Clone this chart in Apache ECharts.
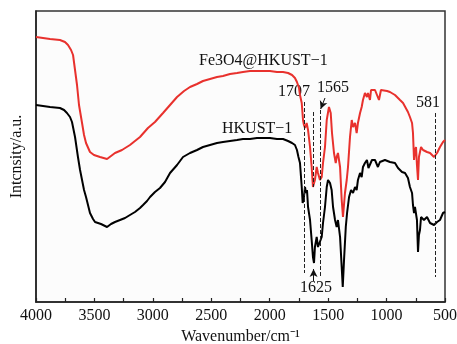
<!DOCTYPE html>
<html><head><meta charset="utf-8">
<script src="https://cdn.jsdelivr.net/npm/echarts@6/dist/echarts.min.js"></script>
<style>html,body{margin:0;padding:0;background:#fff}#c{width:457px;height:344px}</style>
</head><body><div id="c"></div>
<script>
// Wavenumber (cm^-1) and relative intensity (a.u., offset traces)
const fe3o4Wavenumber = [4000,3880,3795,3752,3726,3700,3683,3666,3649,3632,3606,3589,3572,3538,3504,3452,3392,3358,3324,3264,3196,3110,3042,2982,2913,2853,2793,2733,2682,2622,2571,2511,2451,2400,2340,2280,2229,2169,2109,2057,1998,1938,1886,1843,1809,1784,1767,1749,1741,1726,1715,1707,1698,1684,1672,1655,1641,1630,1613,1598,1587,1570,1555,1544,1527,1512,1493,1478,1467,1450,1435,1427,1416,1398,1384,1373,1356,1341,1330,1313,1298,1287,1270,1256,1245,1227,1213,1202,1185,1168,1159,1142,1133,1116,1099,1082,1065,1048,1031,996,971,928,885,859,842,817,800,782,774,765,757,748,740,731,723,705,688,671,654,628,594,568,543,517,500];
const fe3o4Intensity = [265,263,262,260,257,252,247,232,217,197,179,167,159,150,147,145,143,146,149,152,157,165,174,180,189,197,205,211,215,218,221,223,225,226,228,229,230,231,231,231,231,230,230,229,227,224,220,214,207,199,182,177,174,179,172,155,135,115,122,135,129,122,125,139,155,182,195,189,169,149,139,145,149,135,102,85,109,122,135,165,182,175,179,169,179,189,195,202,209,205,209,202,212,210,212,210,202,212,212,211,210,207,202,199,197,190,185,179,169,142,152,155,137,122,145,155,152,154,150,149,145,149,155,160,162];
const hkustWavenumber = [4000,3880,3795,3760,3735,3709,3692,3666,3641,3623,3606,3589,3572,3555,3538,3512,3495,3444,3392,3358,3324,3281,3238,3196,3153,3110,3084,3050,3024,2982,2939,2896,2853,2793,2742,2682,2622,2571,2511,2451,2400,2340,2280,2229,2169,2109,2057,1998,1938,1886,1843,1809,1784,1767,1754,1741,1726,1718,1707,1698,1690,1681,1672,1655,1641,1630,1621,1613,1598,1587,1570,1555,1544,1527,1512,1501,1484,1470,1458,1441,1427,1416,1398,1384,1375,1364,1349,1338,1321,1304,1287,1270,1256,1245,1227,1213,1202,1185,1168,1155,1142,1125,1099,1074,1057,1014,971,928,902,868,842,817,800,782,774,765,757,740,731,723,714,705,680,654,628,594,568,543,517,500];
const hkustIntensity = [197,195,194,192,189,185,180,165,145,132,122,112,105,97,89,83,80,78,75,78,80,82,84,87,90,94,97,101,105,110,114,120,129,137,145,149,152,155,157,159,160,161,162,163,163,164,164,164,163,163,161,159,157,152,145,139,115,99,105,115,109,112,95,82,62,45,39,55,65,55,55,65,79,95,115,122,119,112,95,82,75,82,65,35,15,42,75,89,105,112,109,115,112,122,129,125,135,139,142,134,135,142,142,135,140,142,140,139,134,130,129,124,115,109,97,89,95,82,50,67,72,85,82,85,79,77,80,82,89,90];
const xTickValues = [4000,3500,3000,2500,2000,1500,1000,500];
const seriesNames = ['Fe3O4@HKUST\u22121','HKUST\u22121'];
const peakMarks = [1707,1625,1565,581];

const FONT = '"Liberation Serif","Times New Roman",serif';
const zip = (a,b)=>a.map((v,i)=>[v,b[i]]);
const dash = {type:'dashed', color:'#222', width:1, dashOffset:0};
const chart = echarts.init(document.getElementById('c'), null, {renderer:'canvas'});
chart.setOption({
  animation:false,
  backgroundColor:'#fff',
  grid:{left:36, top:11, right:12, bottom:42, containLabel:false, outerBoundsMode:'none',
        show:true, borderColor:'#333', borderWidth:1.5, backgroundColor:'#fcfcfc'},
  xAxis:[{
    type:'value', inverse:true, min:500, max:4000, interval:250,
    name:'Wavenumber/cm\u207B\u00B9', nameLocation:'middle', nameGap:27,
    nameTextStyle:{fontFamily:FONT, fontSize:16, color:'#111'},
    axisLine:{show:true, onZero:false, lineStyle:{color:'#222', width:1.5}},
    axisTick:{show:true, inside:true, length:4, lineStyle:{color:'#222', width:1.2}},
    axisLabel:{margin:6, fontFamily:FONT, fontSize:16, color:'#111',
      formatter:v=> xTickValues.includes(v) ? String(v) : ''},
    splitLine:{show:false}
  }],
  yAxis:[{
    type:'value', min:0, max:291,
    name:'Intcnsity/a.u.', nameLocation:'middle', nameGap:11, nameRotate:90,
    nameTextStyle:{fontFamily:FONT, fontSize:16, color:'#111'},
    axisLine:{show:true, onZero:false, lineStyle:{color:'#222', width:1.5}},
    axisTick:{show:false}, axisLabel:{show:false}, splitLine:{show:false}
  }],
  series:[
    {name:seriesNames[0], type:'line', data:zip(fe3o4Wavenumber,fe3o4Intensity), showSymbol:false,
     lineStyle:{color:'#e8312d', width:2}, z:3,
     markLine:{silent:true, symbol:['none','none'], label:{show:false}, lineStyle:dash, data:[
       [{coord:[peakMarks[0],200]},{coord:[peakMarks[0],29]}],
       [{coord:[peakMarks[1],190]},{coord:[peakMarks[1],115]}],
       [{coord:[peakMarks[2],192]},{coord:[peakMarks[2],25]}],
       [{coord:[peakMarks[3],189]},{coord:[peakMarks[3],25]}]
     ]}},
    {name:seriesNames[1], type:'line', data:zip(hkustWavenumber,hkustIntensity), showSymbol:false,
     lineStyle:{color:'#000', width:2}, z:2,
     markLine:{silent:true, symbol:['none','arrow'], symbolSize:[6,8], label:{show:false},
       lineStyle:{type:'solid', color:'#111', width:1}, data:[
       [{coord:[1527,204]},{coord:[1564,193]}],
       [{coord:[peakMarks[1],21]},{coord:[peakMarks[1],33]}]
     ]}}
  ],
  graphic:[
    {type:'text', left:199, top:53, style:{text:seriesNames[0], font:'16px '+FONT, fill:'#111'}},
    {type:'text', left:222, top:121, style:{text:seriesNames[1], font:'16px '+FONT, fill:'#111'}},
    {type:'text', left:278, top:84, style:{text:String(peakMarks[0]), font:'16px '+FONT, fill:'#111'}},
    {type:'text', left:317, top:80, style:{text:String(peakMarks[2]), font:'16px '+FONT, fill:'#111'}},
    {type:'text', left:416, top:95, style:{text:String(peakMarks[3]), font:'16px '+FONT, fill:'#111'}},
    {type:'text', left:300, top:280, style:{text:String(peakMarks[1]), font:'16px '+FONT, fill:'#111'}}
  ]
});
</script></body></html>
